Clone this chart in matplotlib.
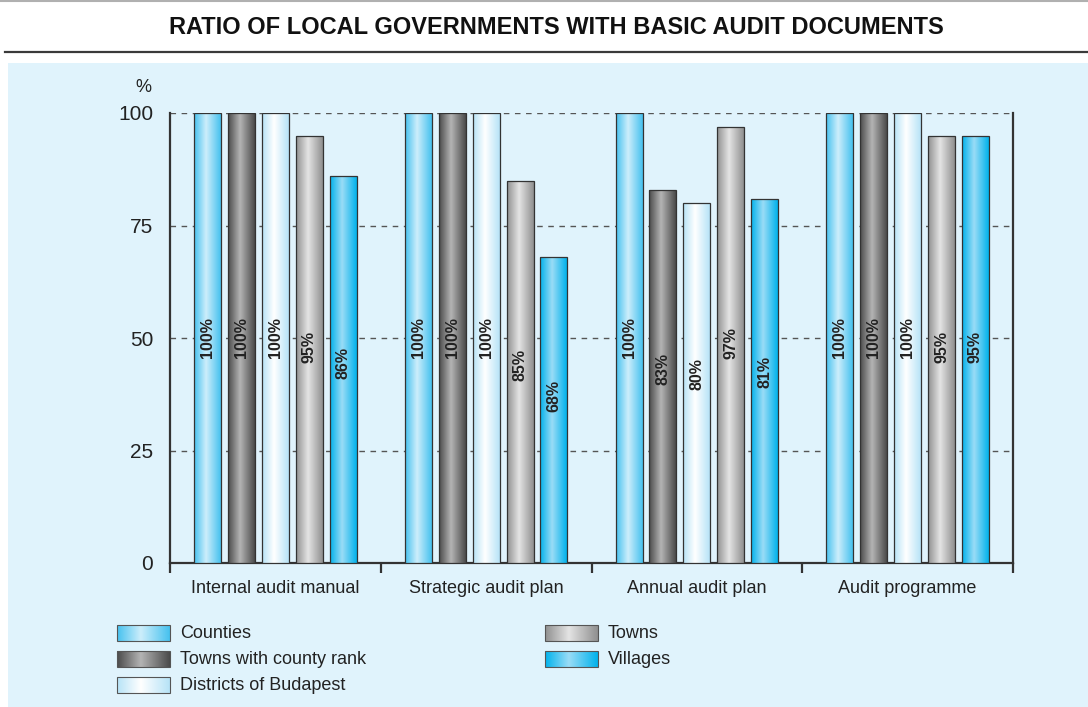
import numpy as np
import matplotlib
matplotlib.use("Agg")
import matplotlib.pyplot as plt
from matplotlib import font_manager
from matplotlib.colors import LinearSegmentedColormap
from matplotlib.patches import Rectangle

categories = ["Internal audit manual", "Strategic audit plan", "Annual audit plan", "Audit programme"]
series = ["Counties", "Towns with county rank", "Districts of Budapest", "Towns", "Villages"]
counties = [100, 100, 100, 100]
towns_county_rank = [100, 100, 83, 100]
districts_budapest = [100, 100, 80, 100]
towns = [95, 85, 97, 95]
villages = [86, 68, 81, 95]
values = [counties, towns_county_rank, districts_budapest, towns, villages]
yticks = [0, 25, 50, 75, 100]

# edge colour, highlight colour of each bar gradient
grads = [("#45c1ef", "#cdeefb"),
         ("#4a4a4a", "#b4b4b4"),
         ("#b6e3f7", "#ffffff"),
         ("#8f8f8f", "#e4e4e4"),
         ("#00b2ec", "#9adcf6")]

BG = "#e0f3fc"
installed = {f.name for f in font_manager.fontManager.ttflist}
narrow = "Liberation Sans Narrow" if "Liberation Sans Narrow" in installed else "Liberation Sans"
plt.rcParams["font.family"] = ["Liberation Sans", "DejaVu Sans"]


def cmap_for(edge, mid):
    return LinearSegmentedColormap.from_list("g", [(0, edge), (0.45, mid), (1, edge)])


grad = np.linspace(0, 1, 256).reshape(1, -1)

fig = plt.figure(figsize=(10.88, 7.07), dpi=100)

# full-figure overlay in pixel coords for background, title, legend
bg = fig.add_axes([0, 0, 1, 1], zorder=0)
bg.set_xlim(0, 1088)
bg.set_ylim(707, 0)
bg.axis("off")
bg.add_patch(Rectangle((8, 63), 1080, 644, facecolor=BG, edgecolor="none"))
bg.plot([5, 1088], [52, 52], color="#3a3a3a", lw=1.6)
bg.plot([0, 1088], [1, 1], color="#b0b0b0", lw=1.5)
bg.text(556, 27, "RATIO OF LOCAL GOVERNMENTS WITH BASIC AUDIT DOCUMENTS",
        ha="center", va="center", fontsize=20 if narrow.endswith("Narrow") else 17,
        fontweight="bold", family=[narrow, "DejaVu Sans"], color="#111111")
bg.text(143, 88, "%", ha="center", va="center", fontsize=13, color="#222222")

# legend
leg_pos = [(117, 633), (117, 659), (117, 685), (545, 633), (545, 659)]
for (lx, ly), name, (edge, mid) in zip(leg_pos, series, grads):
    bg.imshow(grad, cmap=cmap_for(edge, mid), aspect="auto",
              extent=(lx, lx + 53, ly + 8, ly - 8), zorder=2)
    bg.add_patch(Rectangle((lx, ly - 8), 53, 16, facecolor="none",
                           edgecolor="#555555", lw=0.8, zorder=3))
    bg.text(lx + 63, ly, name, ha="left", va="center", fontsize=13, color="#222222")

ax = fig.add_axes([170 / 1088, 1 - 563 / 707, 843 / 1088, 450 / 707], zorder=1)
ax.patch.set_alpha(0)
x = np.arange(len(categories))
step = 0.161
width = 0.128
for j, (vals, (edge, mid)) in enumerate(zip(values, grads)):
    pos = x + (j - 2) * step
    bars = ax.bar(pos, vals, width, facecolor="none", edgecolor="#333333",
                  lw=0.9, zorder=4)
    for b, v in zip(bars, vals):
        x0, w, h = b.get_x(), b.get_width(), b.get_height()
        im = ax.imshow(grad, cmap=cmap_for(edge, mid), aspect="auto",
                       extent=(x0, x0 + w, 0, h), zorder=3)
        im.set_clip_path(b)
        ax.text(x0 + w / 2, 0.4 * v + 10, f"{v}%", rotation=90, ha="center",
                va="center", fontsize=11.5, fontweight="bold", color="#222222",
                zorder=5)

ax.set_xlim(-0.5, len(categories) - 0.5)
ax.set_ylim(0, 100)
ax.set_yticks(yticks)
ax.tick_params(axis="y", length=0, labelsize=15, pad=12, labelcolor="#222222")
ax.set_xticks(x)
ax.set_xticklabels(categories)
ax.tick_params(axis="x", length=0, labelsize=13, pad=12, labelcolor="#222222")
ax.set_xticks(np.arange(len(categories) + 1) - 0.5, minor=True)
ax.tick_params(axis="x", which="minor", length=7, width=1.6, color="#333333")
for y in yticks[1:]:
    ax.axhline(y, color="#555555", lw=1.0, ls=(0, (4, 4)), zorder=1)
ax.spines["top"].set_visible(False)
for s in ["left", "right", "bottom"]:
    ax.spines[s].set_color("#333333")
    ax.spines[s].set_linewidth(1.6)

fig.savefig("out.png", dpi=100, facecolor="white")
